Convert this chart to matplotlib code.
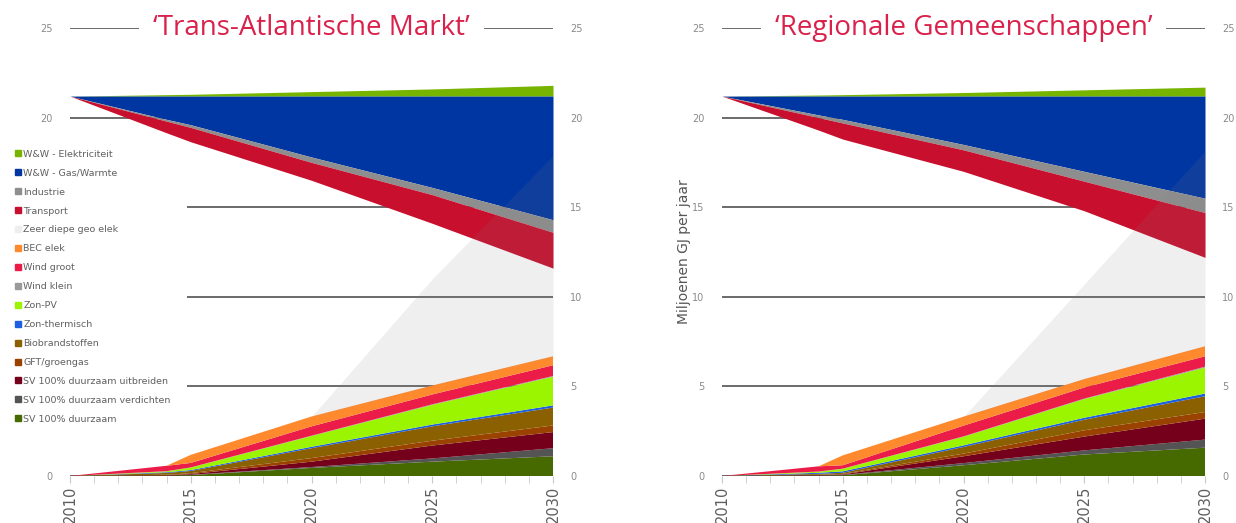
import numpy as np
import matplotlib
matplotlib.use("Agg")
import matplotlib.pyplot as plt
from matplotlib.lines import Line2D

years = [2010, 2014, 2015, 2020, 2025, 2030]
start_level = 21.2

labels = ["W&W - Elektriciteit", "W&W - Gas/Warmte", "Industrie", "Transport",
          "Zeer diepe geo elek", "BEC elek", "Wind groot", "Wind klein", "Zon-PV",
          "Zon-thermisch", "Biobrandstoffen", "GFT/groengas",
          "SV 100% duurzaam uitbreiden", "SV 100% duurzaam verdichten", "SV 100% duurzaam"]
colors = ["#76b400", "#0036a2", "#8e8e8e", "#c8102e",
          "#eeeeee", "#ff8a2e", "#ec1c48", "#9a9a9a", "#9cf500",
          "#1e5ee0", "#8a6000", "#9a4200",
          "#75001c", "#545454", "#466a00"]

# Trans-Atlantische Markt
tam_elek = [0, 0.08, 0.10, 0.25, 0.40, 0.60]
tam_gas = [0, 1.30, 1.60, 3.40, 5.10, 6.90]
tam_industrie = [0, 0.10, 0.15, 0.30, 0.40, 0.70]
tam_transport = [0, 0.65, 0.80, 1.00, 1.60, 2.00]
tam_geo = [0, 0, 0, 0, 5.95, 11.2]
tam_bec = [0, 0, 0.45, 0.55, 0.50, 0.50]
tam_wind_groot = [0, 0.30, 0.25, 0.52, 0.55, 0.60]
tam_wind_klein = [0, 0.01, 0.01, 0.02, 0.03, 0.04]
tam_zon_pv = [0, 0.05, 0.14, 0.60, 1.10, 1.60]
tam_zon_th = [0, 0.04, 0.05, 0.08, 0.10, 0.12]
tam_bio = [0, 0.10, 0.12, 0.55, 0.80, 1.00]
tam_gft = [0, 0.03, 0.05, 0.20, 0.27, 0.37]
tam_sv_uitbreiden = [0, 0.02, 0.04, 0.30, 0.72, 0.90]
tam_sv_verdichten = [0, 0, 0.02, 0.05, 0.18, 0.45]
tam_sv_duurzaam = [0, 0.02, 0.05, 0.45, 0.80, 1.10]

# Regionale Gemeenschappen
rg_elek = [0, 0.06, 0.08, 0.20, 0.35, 0.50]
rg_gas = [0, 1.05, 1.30, 2.70, 4.20, 5.70]
rg_industrie = [0, 0.15, 0.20, 0.30, 0.55, 0.80]
rg_transport = [0, 0.70, 0.90, 1.20, 1.65, 2.50]
rg_geo = [0, 0, 0, 0, 5.30, 10.9]
rg_bec = [0, 0, 0.55, 0.50, 0.47, 0.56]
rg_wind_groot = [0, 0.29, 0.19, 0.60, 0.62, 0.58]
rg_wind_klein = [0, 0.01, 0.01, 0.02, 0.03, 0.05]
rg_zon_pv = [0, 0.06, 0.14, 0.48, 1.04, 1.45]
rg_zon_th = [0, 0.06, 0.08, 0.09, 0.11, 0.15]
rg_bio = [0, 0.05, 0.06, 0.37, 0.59, 0.88]
rg_gft = [0, 0.02, 0.03, 0.15, 0.35, 0.37]
rg_sv_uitbreiden = [0, 0.02, 0.03, 0.38, 0.77, 1.17]
rg_sv_verdichten = [0, 0.01, 0.02, 0.12, 0.23, 0.45]
rg_sv_duurzaam = [0, 0.02, 0.04, 0.60, 1.20, 1.58]

title_color = "#d9214b"
text_gray = "#555555"


def draw_panel(ax, title, elek, gas, industrie, transport, supply, geo):
    x = np.array(years)
    base = np.full(len(x), start_level)

    # demand: electricity grows above the 2010 level, savings eat downwards
    ax.fill_between(x, base, base + np.array(elek), color=colors[0], lw=0, zorder=2)
    level = base
    for vals, c in zip([gas, industrie, transport], colors[1:4]):
        lower = level - np.array(vals)
        ax.fill_between(x, lower, level, color=c, lw=0, zorder=2)
        level = lower

    # supply stack from the bottom, deep geothermal as a see-through layer on top
    supply_colors = colors[5:][::-1]
    ax.stackplot(x, *supply, colors=supply_colors, lw=0, zorder=3)
    top = np.sum(np.array(supply), axis=0)
    ax.fill_between(x, top, top + np.array(geo), color="#808080", alpha=0.12,
                    lw=0, zorder=4)

    ax.set_xlim(2010, 2030)
    ax.set_ylim(0, 25)
    ax.set_yticks([0, 5, 10, 15, 20, 25])
    ax.set_xticks([2010, 2015, 2020, 2025, 2030])
    ax.set_xticks(range(2010, 2031), minor=True)
    ax.grid(axis="y", color="#6a6a6a", lw=1.4, zorder=0)
    ax.set_axisbelow(True)
    for s in ax.spines.values():
        s.set_visible(False)
    ax.tick_params(axis="y", left=False, right=False, labelleft=True,
                   labelright=True, labelsize=7, labelcolor="#8a8a8a", pad=9)
    ax.tick_params(axis="x", which="both", direction="out", length=5,
                   color="#c8c8c8", labelsize=10.5, labelcolor="#5e5e5e",
                   labelrotation=90, pad=2)
    ax.text(0.5, 25, title, transform=ax.get_yaxis_transform(), ha="center",
            va="center", fontsize=20, color=title_color, family="Open Sans",
            zorder=10, bbox=dict(boxstyle="square,pad=0.5", fc="white", ec="none"))


fig = plt.figure(figsize=(12.36, 5.23), dpi=100)
ax1 = fig.add_axes([70 / 1236, 47 / 523, 483 / 1236, 448 / 523])
ax2 = fig.add_axes([722 / 1236, 47 / 523, 483 / 1236, 448 / 523])

draw_panel(ax1, "\u2018Trans-Atlantische Markt\u2019",
           tam_elek, tam_gas, tam_industrie, tam_transport,
           [tam_sv_duurzaam, tam_sv_verdichten, tam_sv_uitbreiden, tam_gft, tam_bio,
            tam_zon_th, tam_zon_pv, tam_wind_klein, tam_wind_groot, tam_bec],
           tam_geo)
draw_panel(ax2, "\u2018Regionale Gemeenschappen\u2019",
           rg_elek, rg_gas, rg_industrie, rg_transport,
           [rg_sv_duurzaam, rg_sv_verdichten, rg_sv_uitbreiden, rg_gft, rg_bio,
            rg_zon_th, rg_zon_pv, rg_wind_klein, rg_wind_groot, rg_bec],
           rg_geo)

# the legend sits over the left-hand labels at 5, 10 and 15
for tick in ax1.yaxis.get_major_ticks()[1:4]:
    tick.label1.set_visible(False)

ax2.set_ylabel("Miljoenen GJ per jaar", fontsize=10, color=text_gray, labelpad=1)

handles = [Line2D([], [], marker="s", ls="", color=c, markersize=4) for c in colors]
leg = fig.legend(handles, labels, loc="upper left",
                 bbox_to_anchor=(12 / 1236, 0, 175 / 1236, 1 - 146 / 523), mode="expand",
                 fontsize=6.8, labelcolor="#606060", frameon=True, fancybox=False,
                 borderpad=0.4, borderaxespad=0, handlelength=0.5,
                 handletextpad=0.3, labelspacing=1.05)
leg.get_frame().set_facecolor("white")
leg.get_frame().set_edgecolor("none")
leg.get_frame().set_alpha(1)

fig.savefig("out.png", dpi=100)
